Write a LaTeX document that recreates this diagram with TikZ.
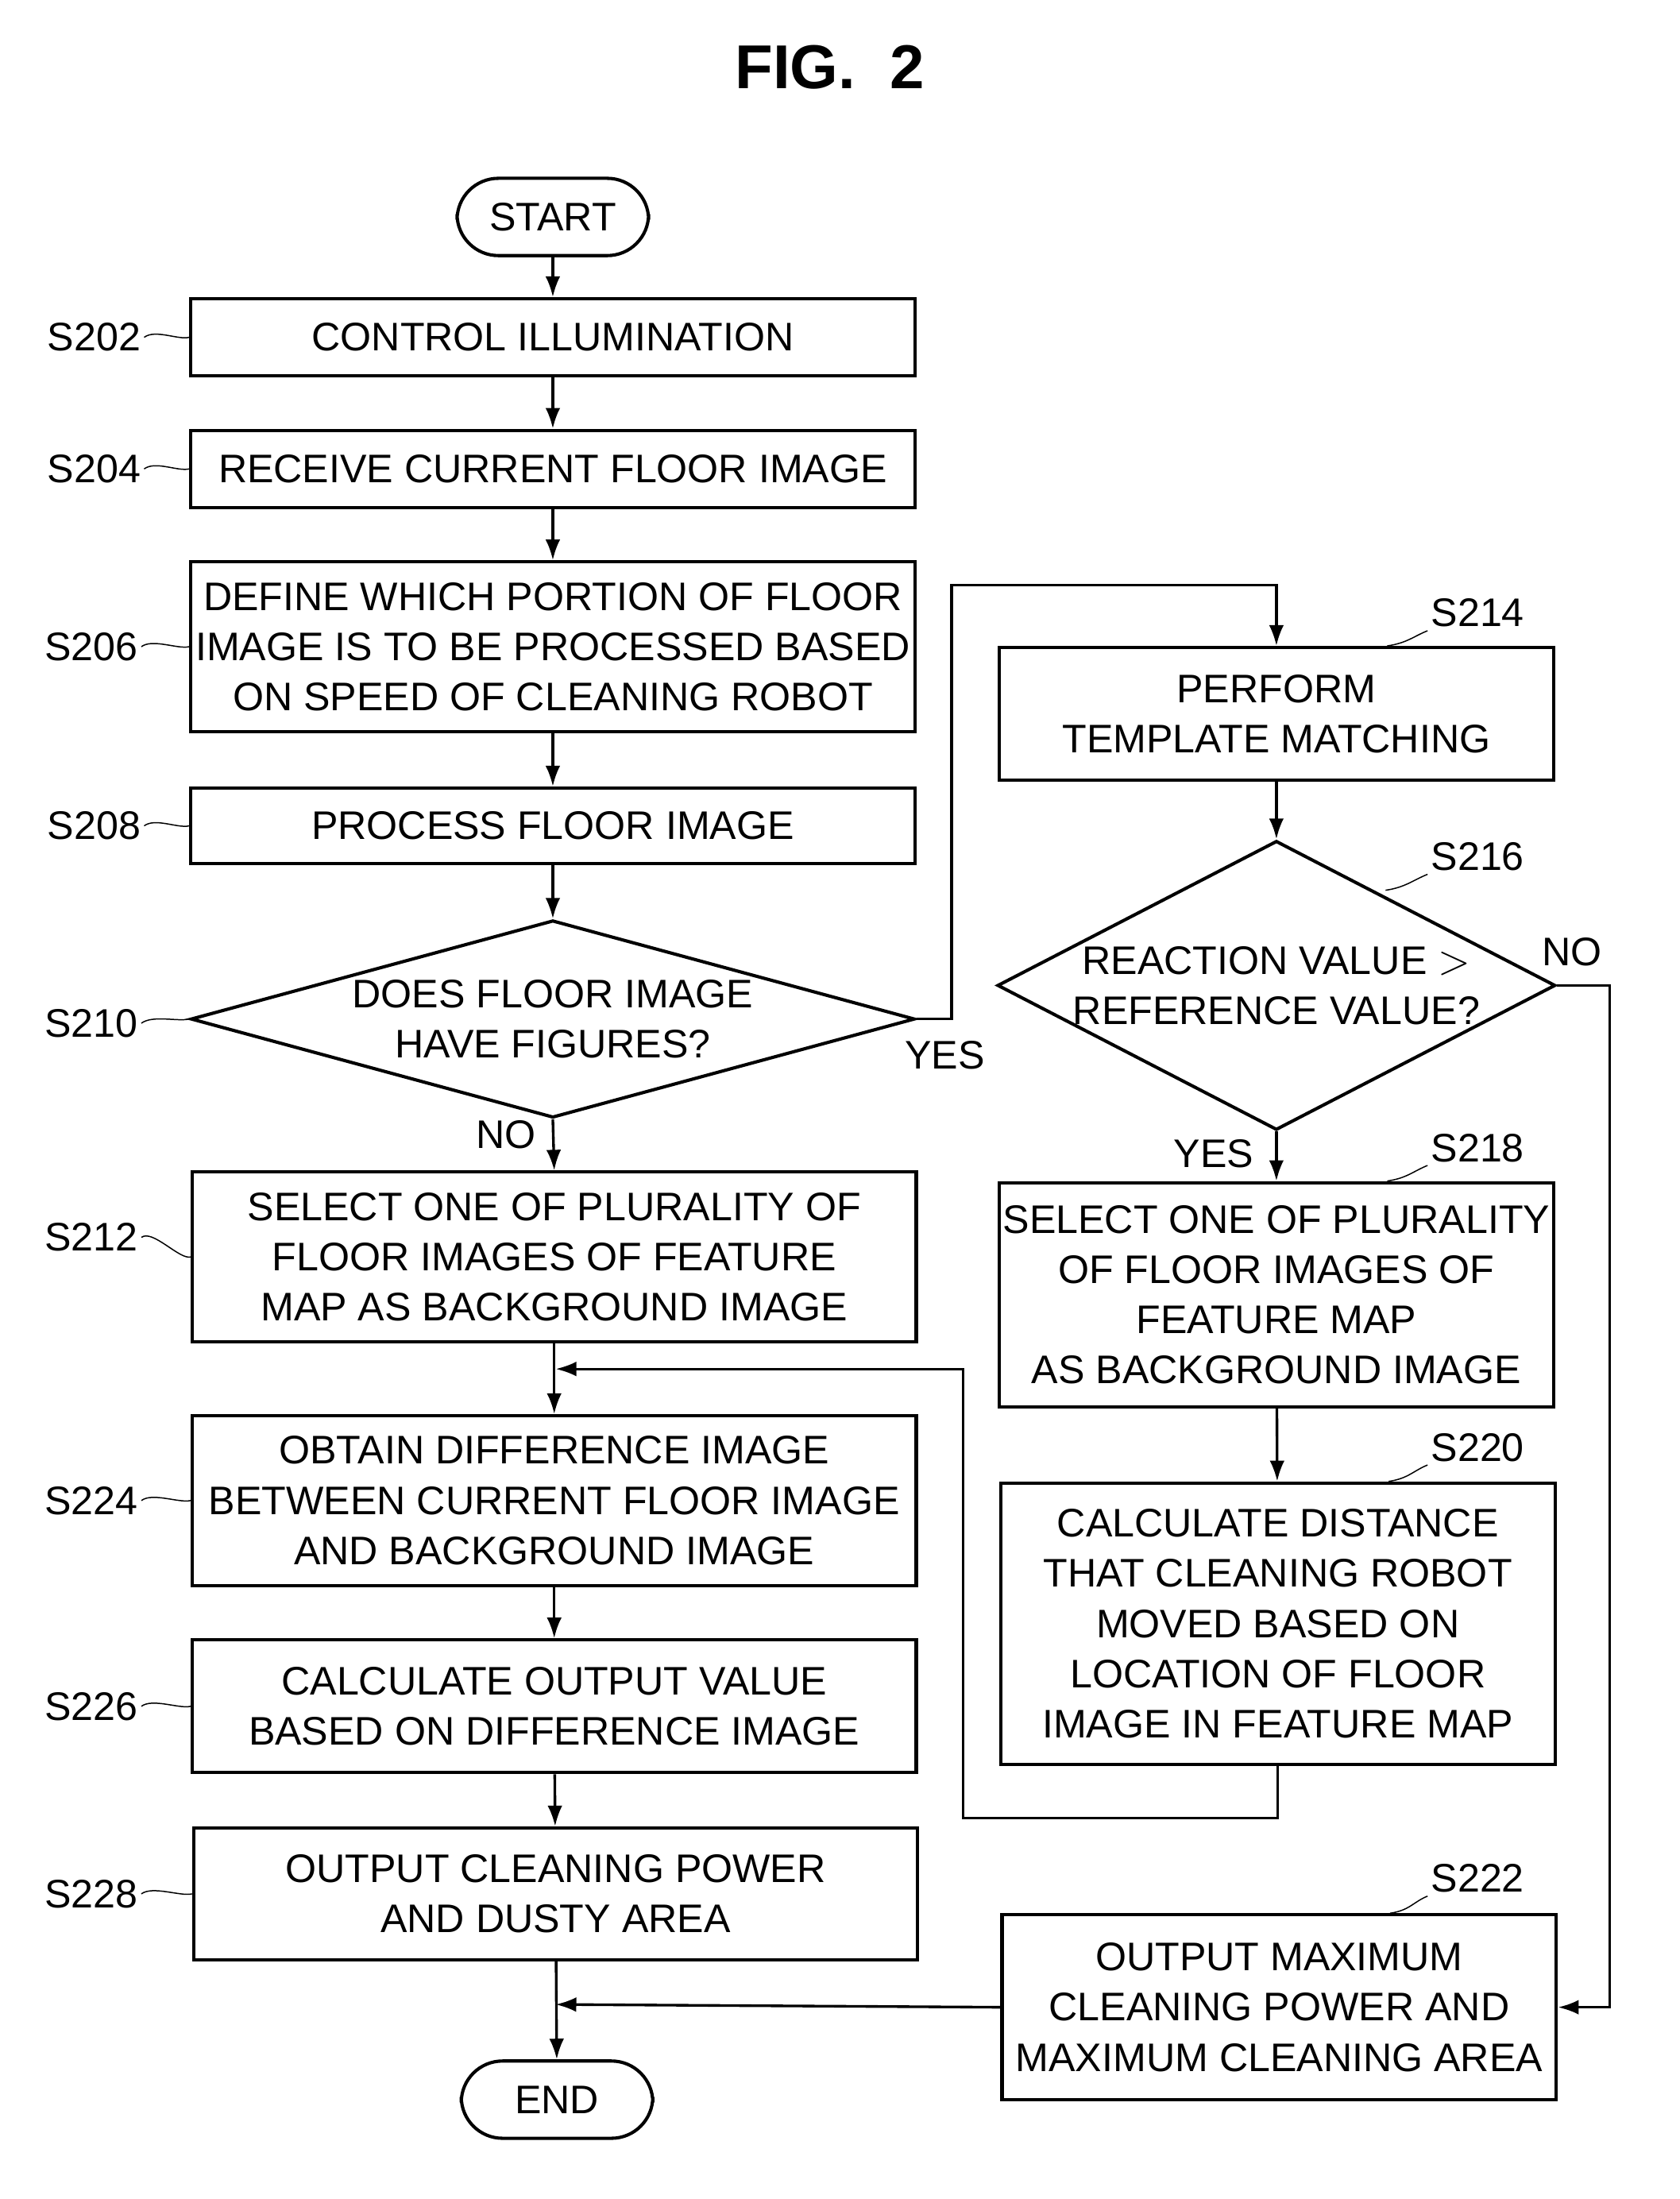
\documentclass[tikz,border=0pt]{standalone}
\usepackage{fontspec}
\setmainfont{Liberation Sans}
\usetikzlibrary{shapes.geometric,arrows.meta}
\newcommand{\leftlabel}[3]{%
  \node[lbl,anchor=east] (#1l) at (#2) {#3};
  \draw (#1l.east) .. controls +(8,-6) and +(-8,2) .. (#1.west);}
\newcommand{\rightlabel}[3]{%
  \node[lbl,anchor=west] (#1l) at (#2) {#3};
  \draw (#1.north east) ++(-120,0) coordinate (#1t) .. controls +(14,-2) and +(-10,4) .. (#1l.south west);}
\begin{document}
\begin{tikzpicture}[x=0.01667cm,y=-0.01667cm,
  font=\fontsize{13.5}{17}\selectfont,
  box/.style = {draw, line width=1.1pt, align=center, inner sep=0pt},
  term/.style = {draw, line width=1.1pt, rounded corners=14pt, minimum width=2.28cm, minimum height=0.92cm},
  dec/.style = {draw, line width=1.1pt, diamond, aspect=3.67, align=center, inner sep=0pt},
  lbl/.style = {inner sep=1pt},
  arr/.style = {-{Latex[length=7pt,width=5pt]}, line width=0.9pt}]
\useasboundingbox (0,0) rectangle (1200,1571);
\node[font=\rmfamily\bfseries\fontsize{21}{24}\selectfont] (title) at (593,48) {FIG.~~2};
% left column
\node[term] (start) at (395,155) {START};
\node[box,minimum width=8.62cm,minimum height=0.92cm] (s202) at (395,241) {CONTROL ILLUMINATION};
\node[box,minimum width=8.62cm,minimum height=0.92cm] (s204) at (395,335) {RECEIVE CURRENT FLOOR IMAGE};
\node[box,minimum width=8.62cm,minimum height=2.02cm] (s206) at (395,462) {DEFINE WHICH PORTION OF FLOOR\\IMAGE IS TO BE PROCESSED BASED\\ON SPEED OF CLEANING ROBOT};
\node[box,minimum width=8.62cm,minimum height=0.9cm] (s208) at (395,590) {PROCESS FLOOR IMAGE};
\node[dec,minimum width=8.62cm,minimum height=2.35cm] (s210) at (395,728) {DOES FLOOR IMAGE\\HAVE FIGURES?};
\node[box,minimum width=8.62cm,minimum height=2.02cm] (s212) at (396,898) {SELECT ONE OF PLURALITY OF\\FLOOR IMAGES OF FEATURE\\MAP AS BACKGROUND IMAGE};
\node[box,minimum width=8.62cm,minimum height=2.02cm] (s224) at (396,1072) {OBTAIN DIFFERENCE IMAGE\\BETWEEN CURRENT FLOOR IMAGE\\AND BACKGROUND IMAGE};
\node[box,minimum width=8.62cm,minimum height=1.58cm] (s226) at (396,1219) {CALCULATE OUTPUT VALUE\\BASED ON DIFFERENCE IMAGE};
\node[box,minimum width=8.62cm,minimum height=1.57cm] (s228) at (397,1353) {OUTPUT CLEANING POWER\\AND DUSTY AREA};
\node[term] (end) at (398,1500) {END};
% right column
\node[box,minimum width=6.6cm,minimum height=1.58cm] (s214) at (912,510) {PERFORM\\TEMPLATE MATCHING};
\node[dec,minimum width=6.6cm,minimum height=3.42cm,aspect=1.93] (s216) at (912,704) {REACTION VALUE $>$\\REFERENCE VALUE?};
\node[box,minimum width=6.6cm,minimum height=2.67cm] (s218) at (912,925) {SELECT ONE OF PLURALITY\\OF FLOOR IMAGES OF\\FEATURE MAP\\AS BACKGROUND IMAGE};
\node[box,minimum width=6.6cm,minimum height=3.35cm] (s220) at (913,1160) {CALCULATE DISTANCE\\THAT CLEANING ROBOT\\MOVED BASED ON\\LOCATION OF FLOOR\\IMAGE IN FEATURE MAP};
\node[box,minimum width=6.6cm,minimum height=2.2cm] (s222) at (914,1434) {OUTPUT MAXIMUM\\CLEANING POWER AND\\MAXIMUM CLEANING AREA};
% step labels
\leftlabel{s202}{103,241}{S202}
\leftlabel{s204}{103,335}{S204}
\leftlabel{s206}{101,462}{S206}
\leftlabel{s208}{103,590}{S208}
\leftlabel{s210}{101,731}{S210}
\leftlabel{s212}{101,884}{S212}
\leftlabel{s224}{101,1072}{S224}
\leftlabel{s226}{101,1219}{S226}
\leftlabel{s228}{101,1353}{S228}
\rightlabel{s214}{1020,438}{S214}
\rightlabel{s218}{1020,820}{S218}
\rightlabel{s220}{1020,1034}{S220}
\rightlabel{s222}{1020,1342}{S222}
\node[lbl,anchor=west] (s216l) at (1020,612) {S216};
\draw (990,636) .. controls +(14,-2) and +(-10,4) .. (s216l.south west);
% connectors
\draw[arr] (start) -- (s202);
\draw[arr] (s202) -- (s204);
\draw[arr] (s204) -- (s206);
\draw[arr] (s206) -- (s208);
\draw[arr] (s208) -- (s210);
\draw[arr] (s210.south) -- (s212.north) node[pos=0.3,left=2pt] {NO};
\coordinate (join) at (397,978);
\draw[arr] (s212) -- (s224);
\draw[arr] (s224) -- (s226);
\draw[arr] (s226) -- (s228);
\draw[arr] (s228) -- (end);
\draw[arr] (s210.east) -- (680,728) -- (680,418) -| (s214.north);
\node[lbl] (yes1) at (675,754) {YES};
\draw[arr] (s214) -- (s216);
\draw[arr] (s216.south) -- (s218.north) node[pos=0.45,left=4pt] {YES};
\draw[arr] (s216.east) -- (1150,704) |- (s222.east);
\node[lbl] (no2) at (1123,680) {NO};
\draw[arr] (s218) -- (s220);
\draw[arr] (s220.south) -- (913,1299) -- (688,1299) -- (688,978) -- (join);
\draw[arr] (s222.west) -- (397,1432);
\end{tikzpicture}
\end{document}
